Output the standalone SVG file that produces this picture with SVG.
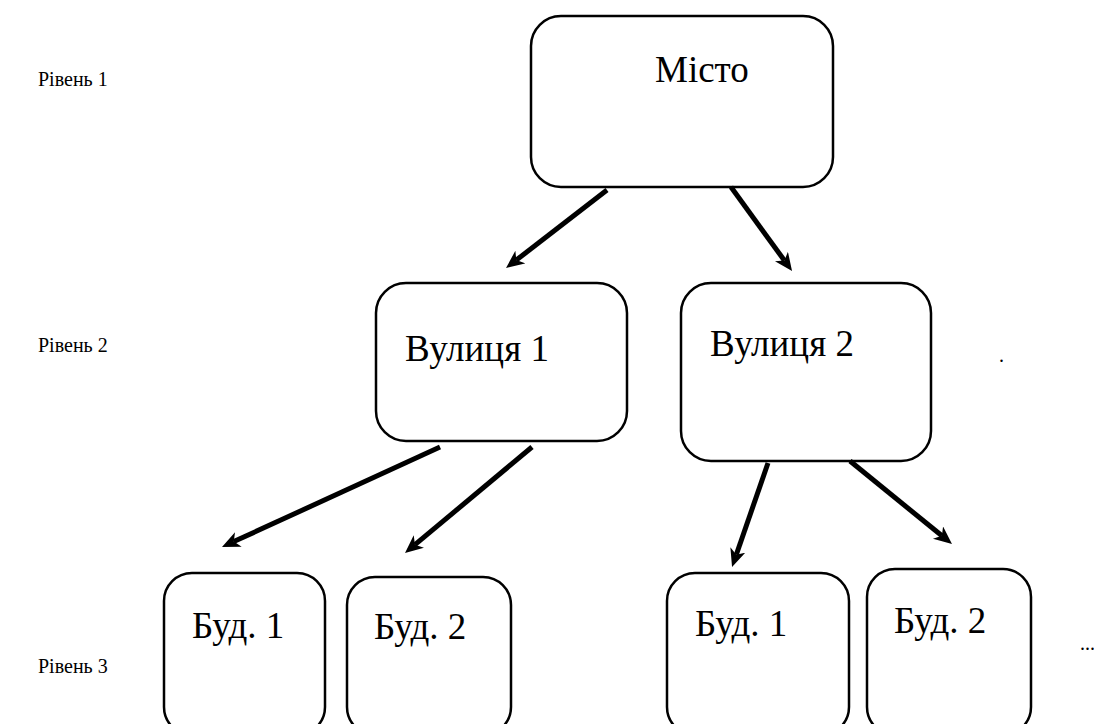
<svg xmlns="http://www.w3.org/2000/svg" width="1094" height="724" viewBox="0 0 1094 724">
  <style>
    .box { fill: #ffffff; stroke: #000000; stroke-width: 2.5; }
    .arrow { stroke: #000000; stroke-width: 5; fill: none; marker-end: url(#ah); }
  </style>
  <defs>
    <marker id="ah" markerUnits="userSpaceOnUse" markerWidth="20" markerHeight="18" refX="5" refY="8" orient="auto">
      <path d="M0,0 L18,8 L0,16 L5,8 z" fill="#000000"/>
    </marker>
  </defs>
  <rect width="1094" height="724" fill="#ffffff"/>

  <g id="levels" font-family="Liberation Serif" font-size="20" fill="#000000">
    <text x="38" y="86">Рівень 1</text>
    <text x="38" y="352">Рівень 2</text>
    <text x="38" y="673">Рівень 3</text>
  </g>

  <g font-family="Liberation Serif" font-size="37" fill="#000000">
    <g id="node-misto">
      <rect class="box" x="531" y="16" width="302" height="171" rx="30"/>
      <text x="655" y="82">Місто</text>
    </g>
    <g id="node-vul1">
      <rect class="box" x="376" y="283" width="251" height="158" rx="30"/>
      <text x="405" y="361">Вулиця 1</text>
    </g>
    <g id="node-vul2">
      <rect class="box" x="681" y="283" width="250" height="178" rx="30"/>
      <text x="710" y="356">Вулиця 2</text>
    </g>
    <g id="node-bud1a">
      <rect class="box" x="164" y="573" width="161" height="162" rx="28"/>
      <text x="192" y="638">Буд. 1</text>
    </g>
    <g id="node-bud2a">
      <rect class="box" x="347" y="577" width="164" height="158" rx="28"/>
      <text x="374" y="639">Буд. 2</text>
    </g>
    <g id="node-bud1b">
      <rect class="box" x="667" y="573" width="182" height="162" rx="28"/>
      <text x="695" y="636">Буд. 1</text>
    </g>
    <g id="node-bud2b">
      <rect class="box" x="867" y="569" width="164" height="166" rx="28"/>
      <text x="894" y="633">Буд. 2</text>
    </g>
  </g>

  <g id="marks" font-family="Liberation Serif" font-size="20" fill="#000000">
    <text x="999" y="362">.</text>
    <text x="1080" y="650">...</text>
  </g>

  <g id="connectors">
    <line class="arrow" x1="607" y1="190" x2="516.3" y2="260.1"/>
    <line class="arrow" x1="731" y1="187" x2="784.4" y2="260.5"/>
    <line class="arrow" x1="440" y1="447" x2="233.8" y2="541.6"/>
    <line class="arrow" x1="532" y1="447" x2="415" y2="544.7"/>
    <line class="arrow" x1="768" y1="463" x2="736.3" y2="554.7"/>
    <line class="arrow" x1="850" y1="461" x2="941.9" y2="535.8"/>
  </g>
</svg>
